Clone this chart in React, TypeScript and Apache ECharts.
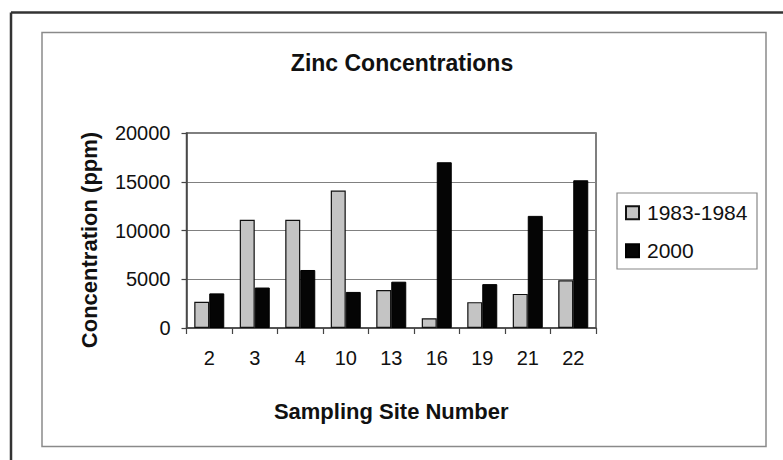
import React, { useEffect, useRef } from "react";
import * as echarts from "echarts";

const categories: string[] = ["2", "3", "4", "10", "13", "16", "19", "21", "22"];
const seriesNames: string[] = ["1983-1984", "2000"];
const values1983: number[] = [2700, 11100, 11100, 14100, 3900, 1000, 2650, 3500, 4900];
const values2000: number[] = [3550, 4150, 5950, 3700, 4750, 17000, 4500, 11500, 15150];
const yMin = 0;
const yMax = 20000;
const yInterval = 5000;

const FONT = "'Liberation Sans', Arial, Helvetica, sans-serif";

export default function App() {
  const ref = useRef<HTMLDivElement>(null);
  useEffect(() => {
    if (!ref.current) return;
    const chart = echarts.init(ref.current, null, { renderer: "svg" });
    chart.setOption({
      animation: false,
      backgroundColor: "#ffffff",
      textStyle: { fontFamily: FONT },
      graphic: [
        { type: "line", shape: { x1: 11, y1: 12.5, x2: 783, y2: 12.5 }, style: { stroke: "#333", lineWidth: 2.5 } },
        { type: "line", shape: { x1: 11, y1: 12.5, x2: 11, y2: 460 }, style: { stroke: "#333", lineWidth: 2.5 } },
        { type: "rect", shape: { x: 42, y: 32.5, width: 724, height: 414 }, style: { fill: "none", stroke: "#8a8a8a", lineWidth: 1.5 } },
        { type: "rect", shape: { x: 617, y: 193, width: 140, height: 76 }, style: { fill: "none", stroke: "#888", lineWidth: 1.2 } },
        {
          type: "text", x: 402, y: 62.5,
          style: { text: "Zinc Concentrations", fontFamily: FONT, fontWeight: "bold", fontSize: 23, fill: "#111", textAlign: "center", textVerticalAlign: "middle" },
        },
        {
          type: "text", x: 89, y: 240, rotation: Math.PI / 2,
          style: { text: "Concentration (ppm)", fontFamily: FONT, fontWeight: "bold", fontSize: 22, fill: "#111", textAlign: "center", textVerticalAlign: "middle" },
        },
      ],
      legend: {
        orient: "vertical",
        left: 625,
        top: 200.7,
        padding: 0,
        itemGap: 14,
        itemWidth: 13,
        itemHeight: 13,
        icon: "rect",
        data: seriesNames,
        textStyle: { fontFamily: FONT, fontSize: 21, color: "#111", lineHeight: 24, padding: [0, 0, 0, 3] },
      },
      grid: { left: 186.5, top: 133, right: 187, bottom: 132, show: true, borderColor: "#555", borderWidth: 1.5, backgroundColor: "#fff" },
      xAxis: {
        type: "category",
        data: categories,
        boundaryGap: true,
        name: "Sampling Site Number",
        nameLocation: "middle",
        nameGap: 72,
        nameTextStyle: { fontFamily: FONT, fontWeight: "bold", fontSize: 22, color: "#111" },
        axisLine: { show: true, lineStyle: { color: "#444", width: 1.5 } },
        axisTick: { show: true, alignWithLabel: false, length: 6, lineStyle: { color: "#444", width: 1.2 } },
        axisLabel: { fontFamily: FONT, fontSize: 20, color: "#111", margin: 20 },
      },
      yAxis: {
        type: "value",
        min: yMin,
        max: yMax,
        interval: yInterval,
        axisLine: { show: true, lineStyle: { color: "#444", width: 1.5 } },
        axisTick: { show: true, length: 5, lineStyle: { color: "#444", width: 1.2 } },
        axisLabel: { fontFamily: FONT, fontSize: 20, color: "#111", margin: 16, formatter: (v: number) => String(v) },
        splitLine: { show: true, lineStyle: { color: "#808080", width: 1 } },
      },
      series: [
        {
          name: seriesNames[0],
          type: "bar",
          data: values1983,
          barWidth: 15,
          barGap: "0%",
          itemStyle: { color: "#c4c4c4", borderColor: "#111", borderWidth: 1.2 },
        },
        {
          name: seriesNames[1],
          type: "bar",
          data: values2000,
          barWidth: 15,
          barGap: "0%",
          itemStyle: { color: "#050505", borderColor: "#000", borderWidth: 1 },
        },
      ],
    });
    return () => chart.dispose();
  }, []);
  return (
    <div
      ref={ref}
      style={{ position: "absolute", left: 0, top: 0, width: 783, height: 460, background: "#fff" }}
    />
  );
}
